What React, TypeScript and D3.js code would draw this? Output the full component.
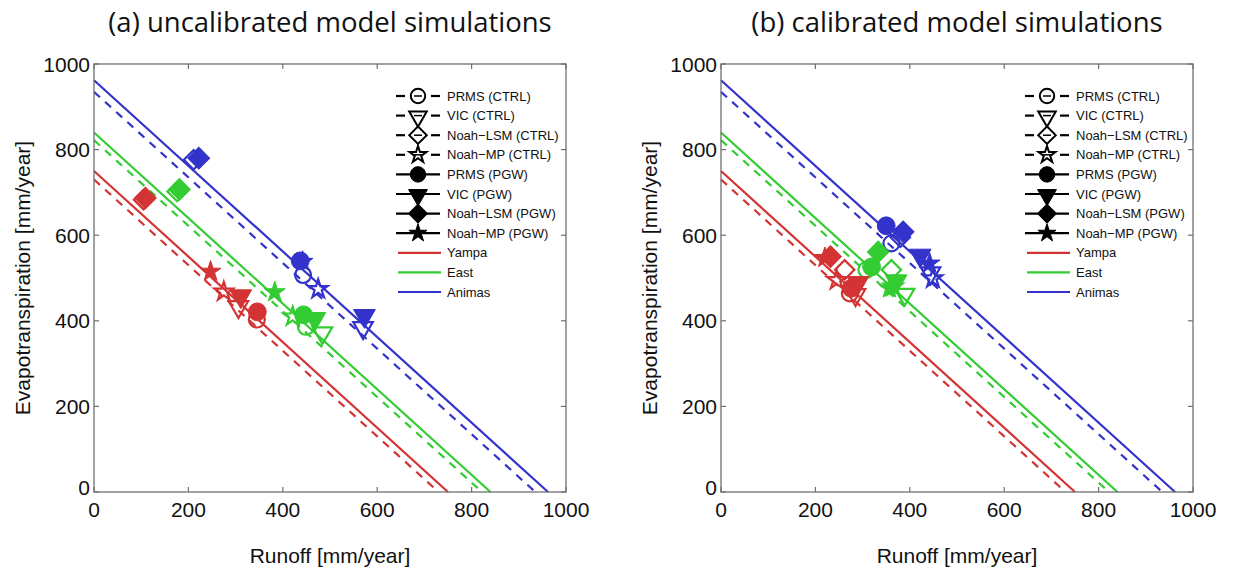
import React from 'react';
import * as d3 from 'd3';

// ---------- data ----------
const basins = ['Yampa', 'East', 'Animas'];
const basinColors = ['#d43333', '#33cc33', '#3333cc'];
const models = ['PRMS', 'VIC', 'Noah\u2212LSM', 'Noah\u2212MP'];
const modelShapes = ['circle', 'triangle', 'diamond', 'star'];
// water-balance lines: precipitation (ET + R = P)
const precipCTRL = [730, 822, 935];
const precipPGW = [750, 840, 962];
const axisTicks = [0, 200, 400, 600, 800, 1000];
const panelTitles = ['(a) uncalibrated model simulations', '(b) calibrated model simulations'];

// [basin][model] (PRMS, VIC, Noah-LSM, Noah-MP)
const uncalCtrlRunoff = [[345, 306, 105, 275], [449, 484, 176, 421], [443, 570, 211, 475]];
const uncalCtrlET = [[403, 435, 683, 468], [386, 374, 702, 410], [507, 386, 776, 474]];
const uncalPgwRunoff = [[346, 311, 109, 247], [444, 468, 181, 383], [437, 573, 222, 442]];
const uncalPgwET = [[421, 460, 687, 515], [414, 407, 707, 467], [540, 414, 780, 538]];

const calCtrlRunoff = [[273, 285, 262, 245], [308, 389, 361, 365], [361, 444, 380, 449]];
const calCtrlET = [[464, 463, 519, 495], [519, 464, 519, 480], [581, 514, 595, 499]];
const calPgwRunoff = [[276, 290, 232, 220], [319, 371, 333, 357], [350, 422, 386, 442]];
const calPgwET = [[476, 491, 550, 547], [526, 495, 561, 476], [622, 555, 608, 534]];

const panels = [
  { title: panelTitles[0], ctrlR: uncalCtrlRunoff, ctrlE: uncalCtrlET, pgwR: uncalPgwRunoff, pgwE: uncalPgwET },
  { title: panelTitles[1], ctrlR: calCtrlRunoff, ctrlE: calCtrlET, pgwR: calPgwRunoff, pgwE: calPgwET },
];

// ---------- layout ----------
const W = 1244, H = 569;
const panelLeft = [94, 721];
const plotW = 472;
const plotTop = 64, plotBottom = 492;

const FONT = '"Liberation Sans", Arial, sans-serif';
const TITLE_FONT = '"Open Sans", "Liberation Sans", sans-serif';

function markerPath(shape: string, scale = 1): string {
  switch (shape) {
    case 'circle':
      return d3.symbol(d3.symbolCircle, 250 * scale)()!;
    case 'triangle':
      return d3.symbol(d3.symbolTriangle, 205 * scale)()!;
    case 'diamond':
      return d3.symbol(d3.symbolSquare, 235 * scale)()!;
    case 'star':
    default:
      return d3.symbol(d3.symbolStar, 135 * scale)()!;
  }
}
function markerTransform(shape: string, x: number, y: number) {
  if (shape === 'triangle') return `translate(${x},${y + 1}) rotate(180)`;
  if (shape === 'diamond') return `translate(${x},${y}) rotate(45)`;
  return `translate(${x},${y})`;
}

function Panel({ idx }: { idx: number }) {
  const p = panels[idx];
  const x0 = panelLeft[idx];
  const xs = d3.scaleLinear().domain([0, 1000]).range([x0, x0 + plotW]);
  const ys = d3.scaleLinear().domain([0, 1000]).range([plotBottom, plotTop]);
  const line = d3.line<[number, number]>().x(d => xs(d[0])).y(d => ys(d[1]));
  const axisColor = '#707070';
  const cx = x0 + plotW / 2;

  // legend
  const legX = idx === 0 ? 396 : 1025;
  const legY0 = 96;
  const legDy = 19.6;
  const legendItems: { label: string; kind: 'ctrl' | 'pgw' | 'line'; shape?: string; color?: string }[] = [
    ...models.map((m, i) => ({ label: `${m} (CTRL)`, kind: 'ctrl' as const, shape: modelShapes[i] })),
    ...models.map((m, i) => ({ label: `${m} (PGW)`, kind: 'pgw' as const, shape: modelShapes[i] })),
    ...basins.map((b, i) => ({ label: b, kind: 'line' as const, color: basinColors[i] })),
  ];

  return (
    <g>
      <text x={cx} y={32} textAnchor="middle" fontFamily={TITLE_FONT} fontSize={27.5} fill="#111">{p.title}</text>
      {/* water balance lines */}
      {basins.map((b, i) => (
        <g key={b}>
          <path d={line([[0, precipPGW[i]], [precipPGW[i], 0]])!} stroke={basinColors[i]} strokeWidth={2.2} fill="none" />
          <path d={line([[0, precipCTRL[i]], [precipCTRL[i], 0]])!} stroke={basinColors[i]} strokeWidth={2.2} fill="none" strokeDasharray="8,7" />
        </g>
      ))}
      {/* CTRL markers (open) */}
      {basins.map((b, i) => models.map((m, j) => (
        <path key={`c${i}${j}`} d={markerPath(modelShapes[j], 0.8)}
          transform={markerTransform(modelShapes[j], xs(p.ctrlR[i][j]), ys(p.ctrlE[i][j]))}
          fill="none" stroke={basinColors[i]} strokeWidth={2.2} />
      )))}
      {/* PGW markers (filled) */}
      {basins.map((b, i) => models.map((m, j) => (
        <path key={`p${i}${j}`} d={markerPath(modelShapes[j])}
          transform={markerTransform(modelShapes[j], xs(p.pgwR[i][j]), ys(p.pgwE[i][j]))}
          fill={basinColors[i]} stroke={basinColors[i]} strokeWidth={1} />
      )))}
      {/* axes box */}
      <rect x={x0} y={plotTop} width={plotW} height={plotBottom - plotTop} fill="none" stroke={axisColor} strokeWidth={1.3} />
      {axisTicks.map(t => (
        <g key={t}>
          <line x1={xs(t)} x2={xs(t)} y1={plotBottom} y2={plotBottom - 5} stroke={axisColor} strokeWidth={1.2} />
          <line x1={xs(t)} x2={xs(t)} y1={plotTop} y2={plotTop + 5} stroke={axisColor} strokeWidth={1.2} />
          <line x1={x0} x2={x0 + 5} y1={ys(t)} y2={ys(t)} stroke={axisColor} strokeWidth={1.2} />
          <line x1={x0 + plotW} x2={x0 + plotW - 5} y1={ys(t)} y2={ys(t)} stroke={axisColor} strokeWidth={1.2} />
          <text x={xs(t)} y={517} textAnchor="middle" fontFamily={FONT} fontSize={21} fill="#111">{t}</text>
          <text x={x0 - 4} y={ys(t) + (t === 0 ? 3 : 7.5)} textAnchor="end" fontFamily={FONT} fontSize={21} fill="#111">{t}</text>
        </g>
      ))}
      <text x={cx} y={563} textAnchor="middle" fontFamily={FONT} fontSize={21} fill="#111">Runoff [mm/year]</text>
      <text transform={`translate(${x0 - 64},${(plotTop + plotBottom) / 2}) rotate(-90)`} textAnchor="middle" fontFamily={FONT} fontSize={21} fill="#111">Evapotranspiration [mm/year]</text>
      {/* legend */}
      {legendItems.map((it, k) => {
        const y = legY0 + k * legDy;
        const mx = legX + 22;
        return (
          <g key={it.label}>
            {it.kind === 'line' && (
              <line x1={legX + 2} x2={legX + 45} y1={y} y2={y} stroke={it.color} strokeWidth={2.2} />
            )}
            {it.kind === 'ctrl' && (
              <g>
                <line x1={legX} x2={legX + 9} y1={y} y2={y} stroke="#000" strokeWidth={2.2} />
                <line x1={legX + 35} x2={legX + 44} y1={y} y2={y} stroke="#000" strokeWidth={2.2} />
                <path d={markerPath(it.shape!, 0.65)} transform={markerTransform(it.shape!, mx, y)} fill="none" stroke="#000" strokeWidth={2} />
                <line x1={mx - 4} x2={mx + 4} y1={y} y2={y} stroke="#000" strokeWidth={1.5} />
              </g>
            )}
            {it.kind === 'pgw' && (
              <g>
                <line x1={legX} x2={legX + 44} y1={y} y2={y} stroke="#000" strokeWidth={2.2} />
                <path d={markerPath(it.shape!, 0.75)} transform={markerTransform(it.shape!, mx, y)} fill="#000" stroke="#000" strokeWidth={1} />
              </g>
            )}
            <text x={legX + 51} y={y + 4.5} fontFamily={FONT} fontSize={13} fill="#111">{it.label}</text>
          </g>
        );
      })}
    </g>
  );
}

export default function App() {
  return (
    <svg width={W} height={H} style={{ position: 'absolute', left: 0, top: 0, background: '#fff' }}>
      <rect width={W} height={H} fill="#fff" />
      <Panel idx={0} />
      <Panel idx={1} />
    </svg>
  );
}
